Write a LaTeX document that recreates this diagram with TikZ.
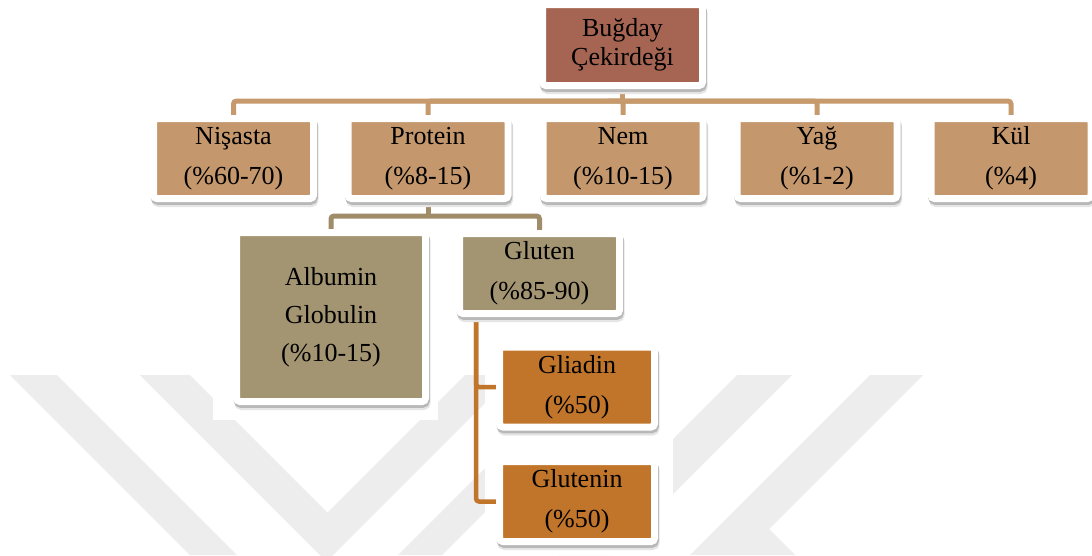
\documentclass[tikz,border=0pt]{standalone}
\usepackage{fontspec}
\setmainfont{Liberation Serif}
\usetikzlibrary{backgrounds}
\pgfdeclarelayer{wm}
\pgfsetlayers{wm,background,main}
\definecolor{rootc}{HTML}{A56552}
\definecolor{tanc}{HTML}{C4976D}
\definecolor{khakic}{HTML}{A39472}
\definecolor{orangec}{HTML}{C1752A}
\definecolor{connA}{HTML}{C69A6C}
\definecolor{connB}{HTML}{A08C69}
\definecolor{connC}{HTML}{C1752A}
\definecolor{wmc}{HTML}{EDEDED}
\begin{document}
\begin{tikzpicture}[x=1pt,y=-1pt,
  box/.style={draw=white, line width=7pt, rounded corners=3.5pt, inner sep=0pt,
    align=center, text=black, font=\fontsize{26}{40}\selectfont,
    preaction={draw=black!10, fill=black!10, transform canvas={xshift=1.5pt, yshift=-5pt}},
    preaction={draw=black!28, fill=black!28, transform canvas={xshift=0.8pt, yshift=-2.8pt}}},
  tanbox/.style={box, fill=tanc, minimum width=160pt, minimum height=80pt},
  khbox/.style={box, fill=khakic},
  orbox/.style={box, fill=orangec, minimum width=155pt, minimum height=80pt},
  connline/.style={line width=5pt, rounded corners=3pt},
  wmshape/.style={fill=wmc, draw=none}]
\useasboundingbox (0,0) rectangle (1092,555);
\begin{pgfonlayer}{wm}
  \fill[white] (0,0) rectangle (1092,555);
  \path[wmshape] (10,375) -- (57,375) -- (237,555) -- (190,555) -- cycle;
  \path[wmshape] (140,375) -- (190,375) -- (327.5,512.5) -- (465,375) -- (513,375) -- (326.5,561.5) -- cycle;
  \path[wmshape] (578,375) -- (622,375) -- (442,555) -- (398,555) -- cycle;
  \path[wmshape] (737,375) -- (792,375) -- (612,555) -- (557,555) -- cycle;
  \path[wmshape] (870,375) -- (923,375) -- (769,529) -- (795,555) -- (690,555) -- cycle;
  \fill[white] (213,0) rectangle (438,420);
  \fill[white] (485,300) rectangle (673,555);
\end{pgfonlayer}

\node[box, fill=rootc, minimum width=160pt, minimum height=81pt,
      font=\fontsize{26}{29}\selectfont] (root) at (622.5,45) {Buğday\\Çekirdeği};
\node[tanbox] (nis) at (233.5,158.5) {Nişasta\\(\%60-70)};
\node[tanbox] (pro) at (428,158.5) {Protein\\(\%8-15)};
\node[tanbox] (nem) at (623,158.5) {Nem\\(\%10-15)};
\node[tanbox] (yag) at (817,158.5) {Yağ\\(\%1-2)};
\node[tanbox] (kul) at (1011,158.5) {Kül\\(\%4)};
\node[khbox, minimum width=189pt, minimum height=169pt,
      font=\fontsize{26}{38}\selectfont] (alb) at (331,317) {Albumin\\Globulin\\(\%10-15)};
\node[khbox, minimum width=160pt, minimum height=80pt] (glu) at (539.5,273.5) {Gluten\\(\%85-90)};
\node[orbox] (gli) at (577,387) {Gliadin\\(\%50)};
\node[orbox] (glt) at (577,501.5) {Glutenin\\(\%50)};

\begin{pgfonlayer}{background}
  \draw[connline, draw=connA] (root.south) -- (root.south |- 0,101);
  \foreach \n in {nis,pro,nem,yag,kul}
    \draw[connline, draw=connA] (root.south |- 0,101) -| (\n.north);
  \draw[connline, draw=connB] (pro.south) -- (pro.south |- 0,216);
  \foreach \n in {alb,glu}
    \draw[connline, draw=connB] (pro.south |- 0,216) -| (\n.north);
  \foreach \n in {gli,glt}
    \draw[connline, line width=4.5pt, draw=connC] (glu.south -| 476,0) |- (\n.west);
\end{pgfonlayer}
\end{tikzpicture}
\end{document}
